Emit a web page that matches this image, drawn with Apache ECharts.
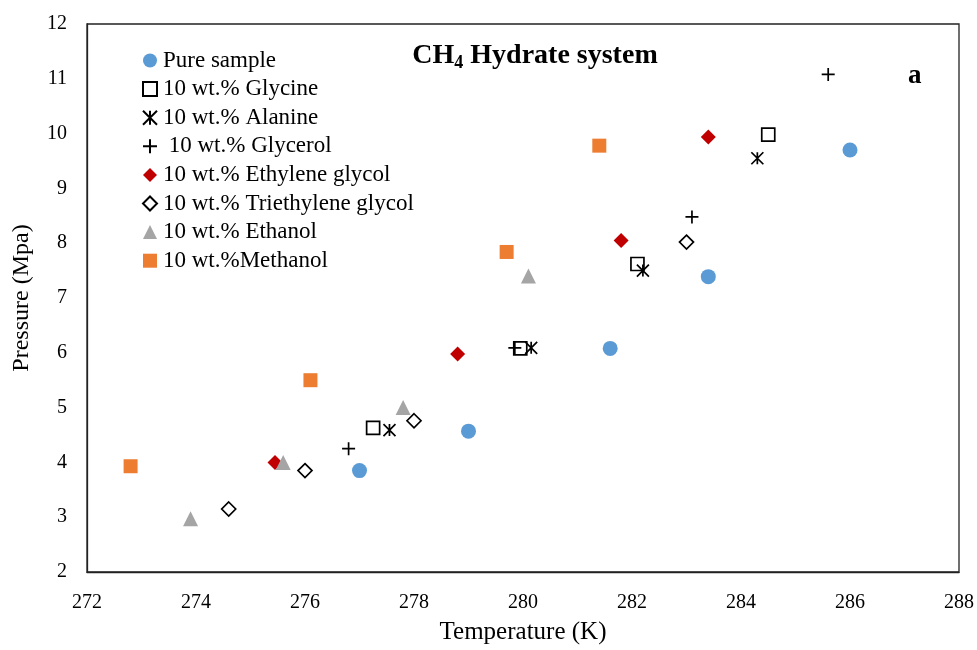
<!DOCTYPE html>
<html>
<head>
<meta charset="utf-8">
<script src="https://cdn.jsdelivr.net/npm/echarts@6/dist/echarts.min.js"></script>
<style>html,body{margin:0;padding:0;background:#fff}#c{width:977px;height:650px}</style>
</head>
<body>
<div id="c"></div>
<script>
// Data (Temperature K, Pressure MPa)
const seriesNames = ["Pure sample", "10 wt.% Glycine", "10 wt.% Alanine", " 10 wt.% Glycerol",
  "10 wt.% Ethylene glycol", "10 wt.% Triethylene glycol", "10 wt.% Ethanol", "10 wt.%Methanol"];
const pureT = [277.0, 279.0, 281.6, 283.4, 286.0];
const pureP = [3.85, 4.57, 6.08, 7.39, 9.70];
const glycineT = [277.25, 279.95, 282.1, 284.5];
const glycineP = [4.63, 6.08, 7.62, 9.98];
const alanineT = [277.55, 280.15, 282.2, 284.3];
const alanineP = [4.59, 6.09, 7.50, 9.55];
const glycerolT = [276.8, 279.85, 283.1, 285.6];
const glycerolP = [4.25, 6.09, 8.48, 11.08];
const egT = [275.45, 278.8, 281.8, 283.4];
const egP = [4.00, 5.98, 8.05, 9.94];
const tegT = [274.6, 276.0, 278.0, 283.0];
const tegP = [3.15, 3.85, 4.76, 8.02];
const ethanolT = [273.9, 275.6, 277.8, 280.1];
const ethanolP = [2.97, 4.00, 5.00, 7.40];
const methanolT = [272.8, 276.1, 279.7, 281.4];
const methanolP = [3.93, 5.50, 7.84, 9.78];
const xTicks = [272, 274, 276, 278, 280, 282, 284, 286, 288];
const yTicks = [2, 3, 4, 5, 6, 7, 8, 9, 10, 11, 12];

const pairs = (t, p) => t.map((v, i) => [v, p[i]]);
const FONT = '"Liberation Serif", "Times New Roman", serif';
const asterisk = 'path://M0,0L10,10M10,0L0,10M5,0L5,10';
const plus = 'path://M0,5L10,5M5,0L5,10';
const hollow = {color: 'rgba(0,0,0,0)', borderColor: '#000', borderWidth: 1.7, opacity: 1};

const specs = [
  {d: pairs(pureT, pureP), symbol: 'circle', size: 15, style: {color: '#5B9BD5', opacity: 1}},
  {d: pairs(glycineT, glycineP), symbol: 'rect', size: 13, style: hollow},
  {d: pairs(alanineT, alanineP), symbol: asterisk, size: 12, style: hollow},
  {d: pairs(glycerolT, glycerolP), symbol: plus, size: 13, style: hollow},
  {d: pairs(egT, egP), symbol: 'diamond', size: 15, style: {color: '#C00000', opacity: 1}},
  {d: pairs(tegT, tegP), symbol: 'diamond', size: 14, style: hollow},
  {d: pairs(ethanolT, ethanolP), symbol: 'triangle', size: 15, style: {color: '#A5A5A5', opacity: 1}},
  {d: pairs(methanolT, methanolP), symbol: 'rect', size: 14, style: {color: '#ED7D31', opacity: 1}}
];

const chart = echarts.init(document.getElementById('c'), null, {renderer: 'canvas'});
chart.setOption({
  animation: false,
  backgroundColor: '#fff',
  textStyle: {fontFamily: FONT},
  grid: {left: 87, right: 18, top: 24, bottom: 77, show: true, borderColor: '#222', borderWidth: 1.3},
  title: [
    {
      text: '{a|CH}{s|4}{a| Hydrate system}',
      left: 530, top: 35, textAlign: 'center',
      textStyle: {rich: {
        a: {fontFamily: FONT, fontSize: 28, fontWeight: 'bold', color: '#000'},
        s: {fontFamily: FONT, fontSize: 18, fontWeight: 'bold', color: '#000', padding: [14, 0, 0, 0]}
      }}
    },
    {text: 'a', left: 903, top: 58, textStyle: {fontFamily: FONT, fontSize: 27, fontWeight: 'bold', color: '#000'}}
  ],
  legend: {
    orient: 'vertical', left: 137, top: 44, itemGap: 5.6, itemWidth: 14, itemHeight: 14,
    textStyle: {fontFamily: FONT, fontSize: 23, color: '#000', padding: [0, 0, 0, 1]},
    data: seriesNames
  },
  xAxis: {
    type: 'value', min: 272, max: 288, interval: 2,
    name: 'Temperature (K)', nameLocation: 'middle', nameGap: 48,
    nameTextStyle: {fontFamily: FONT, fontSize: 25, color: '#000'},
    axisLine: {show: true, onZero: false, lineStyle: {color: '#222', width: 1.3}},
    axisTick: {show: false}, splitLine: {show: false},
    axisLabel: {fontFamily: FONT, fontSize: 20, color: '#000', margin: 21,
      customValues: xTicks}
  },
  yAxis: {
    type: 'value', min: 2, max: 12, interval: 1,
    name: 'Pressure (Mpa)', nameLocation: 'middle', nameGap: 53,
    nameTextStyle: {fontFamily: FONT, fontSize: 24, color: '#000'},
    axisLine: {show: true, onZero: false, lineStyle: {color: '#222', width: 1.3}},
    axisTick: {show: false}, splitLine: {show: false},
    axisLabel: {fontFamily: FONT, fontSize: 20, color: '#000', margin: 20,
      customValues: yTicks}
  },
  series: specs.map((s, i) => ({
    name: seriesNames[i], type: 'scatter', data: s.d,
    symbol: s.symbol, symbolSize: s.size, itemStyle: s.style,
    emphasis: {disabled: true}
  }))
});
</script>
</body>
</html>
